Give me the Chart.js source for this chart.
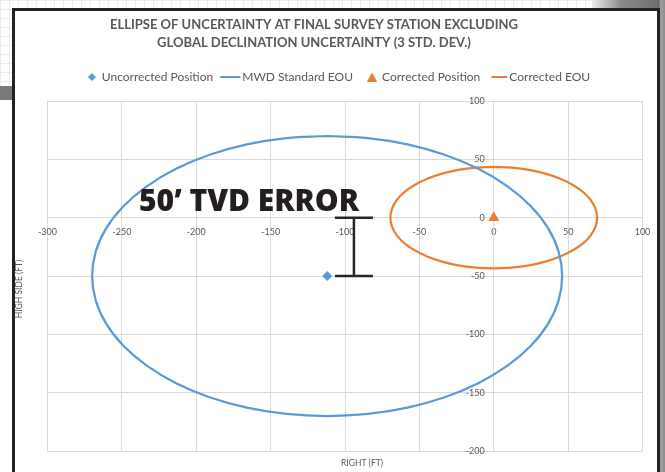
<!DOCTYPE html>
<html>
<head>
<meta charset="utf-8">
<title>Ellipse of uncertainty</title>
<script src="https://cdn.jsdelivr.net/npm/chart.js@4.4.1/dist/chart.umd.min.js"></script>
<style>
  html, body { margin: 0; padding: 0; }
  body { width: 665px; height: 472px; position: relative; overflow: hidden; background: #fff; }
  #sheet {
    position: absolute; left: 0; top: 0; width: 665px; height: 100px;
    background-image:
      linear-gradient(to right, #ececec 1px, transparent 1px),
      linear-gradient(to bottom, #ececec 1px, transparent 1px);
    background-size: 9px 9px;
  }
  #topShadow { position: absolute; left: 592px; top: 0; width: 73px; height: 9px;
    background: linear-gradient(to right, #eee, #8a8a8a 40%, #6a6a6a); }
  #rightShadow { position: absolute; left: 658px; top: 0; width: 7px; height: 472px;
    background: linear-gradient(to right, #5a5a5a, #a0a0a0 40%, #8c8c8c); }
  #leftShadow { position: absolute; left: 0; top: 86px; width: 13px; height: 14px; background: #7a7a7a; }
  #frame { position: absolute; left: 12px; top: 8px; width: 648px; height: 480px;
    box-sizing: border-box; border: 3px solid #222; background: #fff; }
  #chart { position: absolute; left: 0; top: 0; }
</style>
</head>
<body>
<div id="sheet"></div>
<div id="topShadow"></div>
<div id="rightShadow"></div>
<div id="leftShadow"></div>
<div id="frame"></div>
<canvas id="chart" width="665" height="472"></canvas>
<script>
"use strict";

const titleLines = ['ELLIPSE OF UNCERTAINTY AT FINAL SURVEY STATION EXCLUDING', 'GLOBAL DECLINATION UNCERTAINTY (3 STD. DEV.)'];
const xAxisTitle = 'RIGHT (FT)';
const yAxisTitle = 'HIGH SIDE (FT)';
const seriesNames = ['Uncorrected Position', 'MWD Standard EOU', 'Corrected Position', 'Corrected EOU'];

// positions (ft)
const uncorrectedX = [-112];
const uncorrectedY = [-50];
const correctedX = [0];
const correctedY = [0];

// ellipse outlines (clockwise from the top)
const mwdEouX = [-112, -84.6, -58, -33, -10.4, 9, 24.8, 36.5, 43.6, 46, 43.6, 36.5, 24.8, 9, -10.4, -33, -58, -84.6,
    -112, -139.4, -166, -191, -213.6, -233, -248.8, -260.5, -267.6, -270, -267.6, -260.5, -248.8, -233, -213.6, -191, -166, -139.4, -112];
const mwdEouY = [70, 68.2, 62.8, 53.9, 41.9, 27.1, 10, -9, -29.2, -50, -70.8, -91, -110, -127.1, -141.9, -153.9, -162.8, -168.2,
    -170, -168.2, -162.8, -153.9, -141.9, -127.1, -110, -91, -70.8, -50, -29.2, -9, 10, 27.1, 41.9, 53.9, 62.8, 68.2, 70];
const corrEouX = [0, 12.1, 23.8, 34.8, 44.7, 53.2, 60.2, 65.3, 68.4, 69.5, 68.4, 65.3, 60.2, 53.2, 44.7, 34.8, 23.8, 12.1,
    0, -12.1, -23.8, -34.8, -44.7, -53.2, -60.2, -65.3, -68.4, -69.5, -68.4, -65.3, -60.2, -53.2, -44.7, -34.8, -23.8, -12.1, 0];
const corrEouY = [43.5, 42.8, 40.9, 37.7, 33.3, 28, 21.8, 14.9, 7.6, 0, -7.6, -14.9, -21.8, -28, -33.3, -37.7, -40.9, -42.8,
    -43.5, -42.8, -40.9, -37.7, -33.3, -28, -21.8, -14.9, -7.6, 0, 7.6, 14.9, 21.8, 28, 33.3, 37.7, 40.9, 42.8, 43.5];

// axis ranges
const xRange = [-300, 100];
const yRange = [-200, 100];
const tickStep = 50;

// "50' TVD ERROR" bar
const errorLabel = '50\u2019 TVD ERROR';
const errorBarX = -94;
const errorBarY = [0, -50];

const BLUE = '#5b9bd5';
const ORANGE = '#ed7d31';
const GREY = '#595959';

function points(xs, ys) {
    return xs.map((x, i) => ({ x: x, y: ys[i] }));
}

function makeMarker(w, h, draw) {
    var c = document.createElement('canvas');
    c.width = w;
    c.height = h;
    draw(c.getContext('2d'));
    return c;
}

const legendMarks = [
    makeMarker(8, 8, function (g) {
        g.fillStyle = BLUE;
        g.beginPath(); g.moveTo(4, 0); g.lineTo(8, 4); g.lineTo(4, 8); g.lineTo(0, 4); g.closePath(); g.fill();
    }),
    makeMarker(28, 2, function (g) { g.fillStyle = BLUE; g.fillRect(2, 0, 20, 2); }),
    makeMarker(10, 9, function (g) {
        g.fillStyle = ORANGE;
        g.beginPath(); g.moveTo(5, 0); g.lineTo(10, 9); g.lineTo(0, 9); g.closePath(); g.fill();
    }),
    makeMarker(20, 2, function (g) { g.fillStyle = ORANGE; g.fillRect(2, 0, 16, 2); })
];

const decorations = {
    id: 'decorations',
    beforeInit(chart) {
        // leave a gap between legend and plot area
        const fit = chart.legend.fit;
        chart.legend.fit = function () {
            fit.call(this);
            this.height += 8;
        };
    },
    afterDatasetsDraw(chart) {
        const ctx = chart.ctx;
        const xs = chart.scales.x;
        const ys = chart.scales.y;
        const bx = xs.getPixelForValue(errorBarX);
        const top = ys.getPixelForValue(errorBarY[0]);
        const bottom = ys.getPixelForValue(errorBarY[1]);
        ctx.save();
        ctx.strokeStyle = '#262626';
        ctx.lineWidth = 2.5;
        ctx.beginPath();
        ctx.moveTo(bx, top); ctx.lineTo(bx, bottom);
        ctx.moveTo(bx - 19, top); ctx.lineTo(bx + 19, top);
        ctx.moveTo(bx - 19, bottom); ctx.lineTo(bx + 19, bottom);
        ctx.stroke();

        ctx.fillStyle = '#231f20';
        ctx.font = '800 30px "Open Sans"';
        ctx.textAlign = 'left';
        ctx.textBaseline = 'alphabetic';
        ctx.fillText(errorLabel, xs.getPixelForValue(-238.5), ys.getPixelForValue(5.7), 223);
        ctx.restore();
    },
    afterDraw(chart) {
        const ctx = chart.ctx;
        const area = chart.chartArea;
        ctx.save();
        ctx.fillStyle = GREY;
        ctx.textAlign = 'center';
        ctx.textBaseline = 'middle';
        ctx.font = 'bold 13px Lato';
        titleLines.forEach(function (t, i) { ctx.fillText(t, 314, 25 + i * 18); });

        ctx.font = '8.5px Lato';
        ctx.fillText(xAxisTitle, 362, area.bottom + 12);
        ctx.translate(19, 289);
        ctx.rotate(-Math.PI / 2);
        ctx.fillText(yAxisTitle, 0, 0);
        ctx.restore();
    }
};

Chart.defaults.font.family = 'Lato';
Chart.defaults.color = GREY;

const ctx = document.getElementById('chart').getContext('2d');
const myChart = new Chart(ctx, {
    type: 'scatter',
    data: {
        datasets: [{
            label: seriesNames[0],
            data: points(uncorrectedX, uncorrectedY),
            pointStyle: 'rectRot',
            pointRadius: 4.5,
            borderWidth: 1,
            backgroundColor: BLUE,
            borderColor: BLUE
        }, {
            label: seriesNames[1],
            data: points(mwdEouX, mwdEouY),
            showLine: true,
            pointRadius: 0,
            borderColor: BLUE,
            borderWidth: 2.25,
            tension: 0.4
        }, {
            label: seriesNames[2],
            data: points(correctedX, correctedY),
            pointStyle: 'triangle',
            pointRadius: 5.5,
            borderWidth: 1,
            backgroundColor: ORANGE,
            borderColor: ORANGE
        }, {
            label: seriesNames[3],
            data: points(corrEouX, corrEouY),
            showLine: true,
            pointRadius: 0,
            borderColor: ORANGE,
            borderWidth: 2.25,
            tension: 0.4
        }]
    },
    options: {
        responsive: false,
        animation: false,
        layout: {
            padding: { left: 47.5, right: 22.5, top: 56, bottom: 21 }
        },
        plugins: {
            title: { display: false },
            tooltip: { enabled: false },
            legend: {
                position: 'top',
                labels: {
                    usePointStyle: true,
                    boxWidth: 8,
                    boxHeight: 8,
                    padding: 15,
                    font: { size: 12 },
                    generateLabels: function (chart) {
                        const last = chart.data.datasets.length - 1;
                        return chart.data.datasets.map(function (ds, i) {
                            return {
                                // trailing spaces nudge the centred row a little to the left
                                text: i === last ? ds.label + '\u2002\u2002' : ds.label,
                                pointStyle: legendMarks[i],
                                fontColor: GREY,
                                fillStyle: 'transparent',
                                strokeStyle: 'transparent',
                                lineWidth: 0,
                                hidden: !chart.isDatasetVisible(i),
                                datasetIndex: i
                            };
                        });
                    }
                }
            }
        },
        scales: {
            x: {
                type: 'linear',
                position: { y: 0 },
                min: xRange[0],
                max: xRange[1],
                ticks: { stepSize: tickStep, padding: 9, font: { size: 9 }, color: GREY },
                grid: { color: '#d9d9d9', drawTicks: false },
                border: { color: '#d9d9d9' }
            },
            y: {
                type: 'linear',
                position: { x: 0 },
                min: yRange[0],
                max: yRange[1],
                ticks: {
                    stepSize: tickStep,
                    font: { size: 9 },
                    color: GREY,
                    callback: function (v) { return v + '\u2002\u2002'; }
                },
                grid: { color: '#d9d9d9', drawTicks: false },
                border: { color: '#d9d9d9' }
            }
        }
    },
    plugins: [decorations]
});
</script>
</body>
</html>
